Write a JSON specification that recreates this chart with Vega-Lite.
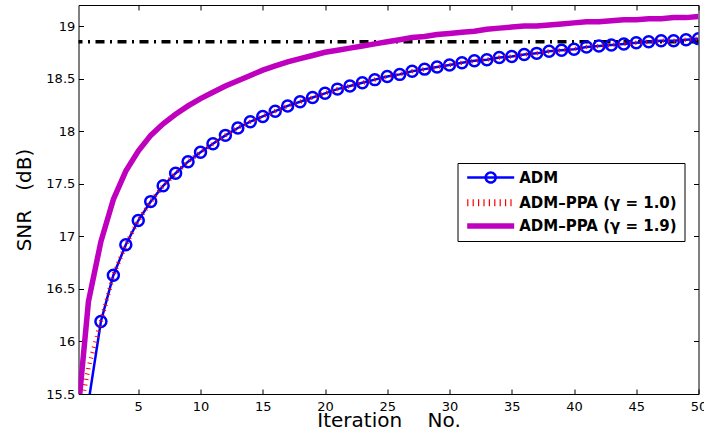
{
  "$schema": "https://vega.github.io/schema/vega-lite/v6.json",
  "width": 620,
  "height": 389,
  "autosize": {"type": "none"},
  "padding": {"left": 78.5, "top": 5, "right": 5.5, "bottom": 50},
  "background": "white",
  "config": {
    "view": {"stroke": "black", "strokeWidth": 1},
    "font": "DejaVu Sans",
    "axis": {
      "grid": false,
      "domain": false,
      "tickColor": "black",
      "tickWidth": 1,
      "tickSize": -5,
      "labelColor": "black",
      "labelFont": "DejaVu Sans",
      "labelFontSize": 13,
      "labelOverlap": false,
      "labelFlush": false,
      "titleColor": "black",
      "titleFont": "DejaVu Sans",
      "titleFontSize": 20,
      "titleFontWeight": "normal"
    }
  },
  "datasets": {
    "ref": [{"snr": 18.85}],
    "curves": [
      {"iter": 0, "series": "ADM", "snr": 15.12},
      {"iter": 1, "series": "ADM", "snr": 15.42},
      {"iter": 2, "series": "ADM", "snr": 16.19},
      {"iter": 3, "series": "ADM", "snr": 16.63},
      {"iter": 4, "series": "ADM", "snr": 16.92},
      {"iter": 5, "series": "ADM", "snr": 17.15},
      {"iter": 6, "series": "ADM", "snr": 17.33},
      {"iter": 7, "series": "ADM", "snr": 17.48},
      {"iter": 8, "series": "ADM", "snr": 17.6},
      {"iter": 9, "series": "ADM", "snr": 17.71},
      {"iter": 10, "series": "ADM", "snr": 17.8},
      {"iter": 11, "series": "ADM", "snr": 17.88},
      {"iter": 12, "series": "ADM", "snr": 17.96},
      {"iter": 13, "series": "ADM", "snr": 18.03},
      {"iter": 14, "series": "ADM", "snr": 18.09},
      {"iter": 15, "series": "ADM", "snr": 18.14},
      {"iter": 16, "series": "ADM", "snr": 18.19},
      {"iter": 17, "series": "ADM", "snr": 18.24},
      {"iter": 18, "series": "ADM", "snr": 18.28},
      {"iter": 19, "series": "ADM", "snr": 18.32},
      {"iter": 20, "series": "ADM", "snr": 18.36},
      {"iter": 21, "series": "ADM", "snr": 18.4},
      {"iter": 22, "series": "ADM", "snr": 18.43},
      {"iter": 23, "series": "ADM", "snr": 18.46},
      {"iter": 24, "series": "ADM", "snr": 18.49},
      {"iter": 25, "series": "ADM", "snr": 18.52},
      {"iter": 26, "series": "ADM", "snr": 18.54},
      {"iter": 27, "series": "ADM", "snr": 18.57},
      {"iter": 28, "series": "ADM", "snr": 18.59},
      {"iter": 29, "series": "ADM", "snr": 18.61},
      {"iter": 30, "series": "ADM", "snr": 18.63},
      {"iter": 31, "series": "ADM", "snr": 18.65},
      {"iter": 32, "series": "ADM", "snr": 18.67},
      {"iter": 33, "series": "ADM", "snr": 18.68},
      {"iter": 34, "series": "ADM", "snr": 18.7},
      {"iter": 35, "series": "ADM", "snr": 18.71},
      {"iter": 36, "series": "ADM", "snr": 18.73},
      {"iter": 37, "series": "ADM", "snr": 18.74},
      {"iter": 38, "series": "ADM", "snr": 18.76},
      {"iter": 39, "series": "ADM", "snr": 18.77},
      {"iter": 40, "series": "ADM", "snr": 18.78},
      {"iter": 41, "series": "ADM", "snr": 18.8},
      {"iter": 42, "series": "ADM", "snr": 18.81},
      {"iter": 43, "series": "ADM", "snr": 18.82},
      {"iter": 44, "series": "ADM", "snr": 18.83},
      {"iter": 45, "series": "ADM", "snr": 18.84},
      {"iter": 46, "series": "ADM", "snr": 18.85},
      {"iter": 47, "series": "ADM", "snr": 18.86},
      {"iter": 48, "series": "ADM", "snr": 18.86},
      {"iter": 49, "series": "ADM", "snr": 18.87},
      {"iter": 50, "series": "ADM", "snr": 18.88},
      {"iter": 0, "series": "ADM–PPA (γ = 1.0)", "snr": 15.12},
      {"iter": 1, "series": "ADM–PPA (γ = 1.0)", "snr": 15.75},
      {"iter": 2, "series": "ADM–PPA (γ = 1.0)", "snr": 16.19},
      {"iter": 3, "series": "ADM–PPA (γ = 1.0)", "snr": 16.63},
      {"iter": 4, "series": "ADM–PPA (γ = 1.0)", "snr": 16.92},
      {"iter": 5, "series": "ADM–PPA (γ = 1.0)", "snr": 17.15},
      {"iter": 6, "series": "ADM–PPA (γ = 1.0)", "snr": 17.33},
      {"iter": 7, "series": "ADM–PPA (γ = 1.0)", "snr": 17.48},
      {"iter": 8, "series": "ADM–PPA (γ = 1.0)", "snr": 17.6},
      {"iter": 9, "series": "ADM–PPA (γ = 1.0)", "snr": 17.71},
      {"iter": 10, "series": "ADM–PPA (γ = 1.0)", "snr": 17.8},
      {"iter": 11, "series": "ADM–PPA (γ = 1.0)", "snr": 17.88},
      {"iter": 12, "series": "ADM–PPA (γ = 1.0)", "snr": 17.96},
      {"iter": 13, "series": "ADM–PPA (γ = 1.0)", "snr": 18.03},
      {"iter": 14, "series": "ADM–PPA (γ = 1.0)", "snr": 18.09},
      {"iter": 15, "series": "ADM–PPA (γ = 1.0)", "snr": 18.14},
      {"iter": 16, "series": "ADM–PPA (γ = 1.0)", "snr": 18.19},
      {"iter": 17, "series": "ADM–PPA (γ = 1.0)", "snr": 18.24},
      {"iter": 18, "series": "ADM–PPA (γ = 1.0)", "snr": 18.28},
      {"iter": 19, "series": "ADM–PPA (γ = 1.0)", "snr": 18.32},
      {"iter": 20, "series": "ADM–PPA (γ = 1.0)", "snr": 18.36},
      {"iter": 21, "series": "ADM–PPA (γ = 1.0)", "snr": 18.4},
      {"iter": 22, "series": "ADM–PPA (γ = 1.0)", "snr": 18.43},
      {"iter": 23, "series": "ADM–PPA (γ = 1.0)", "snr": 18.46},
      {"iter": 24, "series": "ADM–PPA (γ = 1.0)", "snr": 18.49},
      {"iter": 25, "series": "ADM–PPA (γ = 1.0)", "snr": 18.52},
      {"iter": 26, "series": "ADM–PPA (γ = 1.0)", "snr": 18.54},
      {"iter": 27, "series": "ADM–PPA (γ = 1.0)", "snr": 18.57},
      {"iter": 28, "series": "ADM–PPA (γ = 1.0)", "snr": 18.59},
      {"iter": 29, "series": "ADM–PPA (γ = 1.0)", "snr": 18.61},
      {"iter": 30, "series": "ADM–PPA (γ = 1.0)", "snr": 18.63},
      {"iter": 31, "series": "ADM–PPA (γ = 1.0)", "snr": 18.65},
      {"iter": 32, "series": "ADM–PPA (γ = 1.0)", "snr": 18.67},
      {"iter": 33, "series": "ADM–PPA (γ = 1.0)", "snr": 18.68},
      {"iter": 34, "series": "ADM–PPA (γ = 1.0)", "snr": 18.7},
      {"iter": 35, "series": "ADM–PPA (γ = 1.0)", "snr": 18.71},
      {"iter": 36, "series": "ADM–PPA (γ = 1.0)", "snr": 18.73},
      {"iter": 37, "series": "ADM–PPA (γ = 1.0)", "snr": 18.74},
      {"iter": 38, "series": "ADM–PPA (γ = 1.0)", "snr": 18.76},
      {"iter": 39, "series": "ADM–PPA (γ = 1.0)", "snr": 18.77},
      {"iter": 40, "series": "ADM–PPA (γ = 1.0)", "snr": 18.78},
      {"iter": 41, "series": "ADM–PPA (γ = 1.0)", "snr": 18.8},
      {"iter": 42, "series": "ADM–PPA (γ = 1.0)", "snr": 18.81},
      {"iter": 43, "series": "ADM–PPA (γ = 1.0)", "snr": 18.82},
      {"iter": 44, "series": "ADM–PPA (γ = 1.0)", "snr": 18.83},
      {"iter": 45, "series": "ADM–PPA (γ = 1.0)", "snr": 18.84},
      {"iter": 46, "series": "ADM–PPA (γ = 1.0)", "snr": 18.85},
      {"iter": 47, "series": "ADM–PPA (γ = 1.0)", "snr": 18.86},
      {"iter": 48, "series": "ADM–PPA (γ = 1.0)", "snr": 18.86},
      {"iter": 49, "series": "ADM–PPA (γ = 1.0)", "snr": 18.87},
      {"iter": 50, "series": "ADM–PPA (γ = 1.0)", "snr": 18.88},
      {"iter": 0, "series": "ADM–PPA (γ = 1.9)", "snr": 15.12},
      {"iter": 1, "series": "ADM–PPA (γ = 1.9)", "snr": 16.38},
      {"iter": 2, "series": "ADM–PPA (γ = 1.9)", "snr": 16.95},
      {"iter": 3, "series": "ADM–PPA (γ = 1.9)", "snr": 17.35},
      {"iter": 4, "series": "ADM–PPA (γ = 1.9)", "snr": 17.62},
      {"iter": 5, "series": "ADM–PPA (γ = 1.9)", "snr": 17.81},
      {"iter": 6, "series": "ADM–PPA (γ = 1.9)", "snr": 17.96},
      {"iter": 7, "series": "ADM–PPA (γ = 1.9)", "snr": 18.07},
      {"iter": 8, "series": "ADM–PPA (γ = 1.9)", "snr": 18.16},
      {"iter": 9, "series": "ADM–PPA (γ = 1.9)", "snr": 18.24},
      {"iter": 10, "series": "ADM–PPA (γ = 1.9)", "snr": 18.31},
      {"iter": 11, "series": "ADM–PPA (γ = 1.9)", "snr": 18.37},
      {"iter": 12, "series": "ADM–PPA (γ = 1.9)", "snr": 18.43},
      {"iter": 13, "series": "ADM–PPA (γ = 1.9)", "snr": 18.48},
      {"iter": 14, "series": "ADM–PPA (γ = 1.9)", "snr": 18.53},
      {"iter": 15, "series": "ADM–PPA (γ = 1.9)", "snr": 18.58},
      {"iter": 16, "series": "ADM–PPA (γ = 1.9)", "snr": 18.62},
      {"iter": 17, "series": "ADM–PPA (γ = 1.9)", "snr": 18.66},
      {"iter": 18, "series": "ADM–PPA (γ = 1.9)", "snr": 18.69},
      {"iter": 19, "series": "ADM–PPA (γ = 1.9)", "snr": 18.72},
      {"iter": 20, "series": "ADM–PPA (γ = 1.9)", "snr": 18.75},
      {"iter": 21, "series": "ADM–PPA (γ = 1.9)", "snr": 18.77},
      {"iter": 22, "series": "ADM–PPA (γ = 1.9)", "snr": 18.79},
      {"iter": 23, "series": "ADM–PPA (γ = 1.9)", "snr": 18.81},
      {"iter": 24, "series": "ADM–PPA (γ = 1.9)", "snr": 18.83},
      {"iter": 25, "series": "ADM–PPA (γ = 1.9)", "snr": 18.85},
      {"iter": 26, "series": "ADM–PPA (γ = 1.9)", "snr": 18.87},
      {"iter": 27, "series": "ADM–PPA (γ = 1.9)", "snr": 18.89},
      {"iter": 28, "series": "ADM–PPA (γ = 1.9)", "snr": 18.9},
      {"iter": 29, "series": "ADM–PPA (γ = 1.9)", "snr": 18.92},
      {"iter": 30, "series": "ADM–PPA (γ = 1.9)", "snr": 18.93},
      {"iter": 31, "series": "ADM–PPA (γ = 1.9)", "snr": 18.94},
      {"iter": 32, "series": "ADM–PPA (γ = 1.9)", "snr": 18.95},
      {"iter": 33, "series": "ADM–PPA (γ = 1.9)", "snr": 18.97},
      {"iter": 34, "series": "ADM–PPA (γ = 1.9)", "snr": 18.98},
      {"iter": 35, "series": "ADM–PPA (γ = 1.9)", "snr": 18.99},
      {"iter": 36, "series": "ADM–PPA (γ = 1.9)", "snr": 19.0},
      {"iter": 37, "series": "ADM–PPA (γ = 1.9)", "snr": 19.0},
      {"iter": 38, "series": "ADM–PPA (γ = 1.9)", "snr": 19.01},
      {"iter": 39, "series": "ADM–PPA (γ = 1.9)", "snr": 19.02},
      {"iter": 40, "series": "ADM–PPA (γ = 1.9)", "snr": 19.03},
      {"iter": 41, "series": "ADM–PPA (γ = 1.9)", "snr": 19.04},
      {"iter": 42, "series": "ADM–PPA (γ = 1.9)", "snr": 19.04},
      {"iter": 43, "series": "ADM–PPA (γ = 1.9)", "snr": 19.05},
      {"iter": 44, "series": "ADM–PPA (γ = 1.9)", "snr": 19.06},
      {"iter": 45, "series": "ADM–PPA (γ = 1.9)", "snr": 19.06},
      {"iter": 46, "series": "ADM–PPA (γ = 1.9)", "snr": 19.07},
      {"iter": 47, "series": "ADM–PPA (γ = 1.9)", "snr": 19.07},
      {"iter": 48, "series": "ADM–PPA (γ = 1.9)", "snr": 19.08},
      {"iter": 49, "series": "ADM–PPA (γ = 1.9)", "snr": 19.08},
      {"iter": 50, "series": "ADM–PPA (γ = 1.9)", "snr": 19.09}
    ]
  },
  "layer": [
    {
      "data": {"name": "ref"},
      "mark": {"type": "rule", "color": "black", "strokeWidth": 3.5, "strokeDash": [9, 5.5, 2, 5.5], "strokeCap": "butt"},
      "encoding": {
        "y": {"field": "snr", "type": "quantitative", "scale": {"domain": [15.5, 19.2], "nice": false, "zero": false}, "axis": null}
      }
    },
    {
      "data": {"name": "curves"},
      "transform": [{"filter": "datum.series == 'ADM'"}],
      "mark": {"type": "line", "color": "#0000ff", "strokeWidth": 2.5, "clip": true},
      "encoding": {
        "x": {"field": "iter", "type": "quantitative", "scale": {"domain": [0.2, 50], "nice": false, "zero": false},
          "axis": {"orient": "top", "values": [5, 10, 15, 20, 25, 30, 35, 40, 45, 50], "labels": false, "title": null}},
        "y": {"field": "snr", "type": "quantitative", "scale": {"domain": [15.5, 19.2], "nice": false, "zero": false},
          "axis": {"orient": "right", "values": [15.5, 16, 16.5, 17, 17.5, 18, 18.5, 19], "labels": false, "title": null}}
      }
    },
    {
      "data": {"name": "curves"},
      "transform": [{"filter": "datum.series == 'ADM' && datum.iter >= 1"}],
      "mark": {"type": "point", "shape": "circle", "filled": false, "color": "#0000ff", "size": 120, "strokeWidth": 2.5, "opacity": 1, "clip": true},
      "encoding": {
        "x": {"field": "iter", "type": "quantitative", "axis": null},
        "y": {"field": "snr", "type": "quantitative", "axis": null}
      }
    },
    {
      "data": {"name": "curves"},
      "transform": [{"filter": "datum.series == 'ADM–PPA (γ = 1.0)'"}],
      "mark": {"type": "line", "color": "#ff0000", "strokeWidth": 4.5, "strokeDash": [1, 4.5], "strokeCap": "butt", "clip": true},
      "encoding": {
        "x": {"field": "iter", "type": "quantitative", "axis": null},
        "y": {"field": "snr", "type": "quantitative", "axis": null}
      }
    },
    {
      "data": {"name": "curves"},
      "transform": [{"filter": "datum.series == 'ADM–PPA (γ = 1.9)'"}],
      "mark": {"type": "line", "color": "#bf00bf", "strokeWidth": 5.5, "clip": true},
      "encoding": {
        "x": {"field": "iter", "type": "quantitative",
          "axis": {"orient": "bottom", "values": [5, 10, 15, 20, 25, 30, 35, 40, 45, 50], "labelPadding": 11.5,
            "title": "Iteration\u00a0\u00a0\u00a0\u00a0No.", "titleY": 32.5, "titleBaseline": "alphabetic"}},
        "y": {"field": "snr", "type": "quantitative",
          "axis": {"orient": "left", "values": [15.5, 16, 16.5, 17, 17.5, 18, 18.5, 19], "format": "~g", "labelPadding": 8.7,
            "title": "SNR\u00a0\u00a0\u00a0(dB)", "titleX": -48, "titleY": 194.5, "titleBaseline": "alphabetic"}}
      }
    },
    {
      "data": {"name": "curves"},
      "transform": [{"filter": "datum.iter < 0"}],
      "mark": {"type": "point", "filled": false, "strokeWidth": 2.5, "opacity": 1},
      "encoding": {
        "color": {"field": "series", "type": "nominal",
          "scale": {"domain": ["ADM", "ADM–PPA (γ = 1.0)", "ADM–PPA (γ = 1.9)"], "range": ["#0000ff", "#ff0000", "#bf00bf"]},
          "legend": {"orient": "none", "legendX": 379, "legendY": 158, "title": null, "padding": 7, "rowPadding": 7.2,
            "symbolSize": 100, "symbolStrokeWidth": 2.5, "symbolOffset": 18.7, "labelOffset": 21, "symbolFillColor": "transparent", "symbolOpacity": 1,
            "labelFont": "DejaVu Sans", "labelFontSize": 15, "labelFontWeight": "bold", "labelColor": "black", "labelLimit": 300,
            "strokeColor": "black", "fillColor": "white", "cornerRadius": 0}},
        "shape": {"field": "series", "type": "nominal",
          "scale": {"domain": ["ADM", "ADM–PPA (γ = 1.0)", "ADM–PPA (γ = 1.9)"],
            "range": [
              "M-4.7,0L4.7,0M1,0C1,0.5523 0.5523,1 0,1C-0.5523,1 -1,0.5523 -1,0C-1,-0.5523 -0.5523,-1 0,-1C0.5523,-1 1,-0.5523 1,0Z",
              "M-4.7,-0.45L4.7,-0.45M-4.7,0L4.7,0M-4.7,0.45L4.7,0.45",
              "M-4.7,-0.3L4.7,-0.3M-4.7,0L4.7,0M-4.7,0.3L4.7,0.3"
            ]},
          "legend": {"orient": "none", "legendX": 379, "legendY": 158, "title": null, "padding": 7, "rowPadding": 7.2,
            "symbolSize": 100, "symbolStrokeWidth": 2.5, "symbolOffset": 18.7, "labelOffset": 21, "symbolFillColor": "transparent", "symbolOpacity": 1,
            "labelFont": "DejaVu Sans", "labelFontSize": 15, "labelFontWeight": "bold", "labelColor": "black", "labelLimit": 300,
            "strokeColor": "black", "fillColor": "white", "cornerRadius": 0}},
        "strokeDash": {"field": "series", "type": "nominal",
          "scale": {"domain": ["ADM", "ADM–PPA (γ = 1.0)", "ADM–PPA (γ = 1.9)"], "range": [[1, 0], [1.2, 4.2], [1, 0]]},
          "legend": {"orient": "none", "legendX": 379, "legendY": 158, "title": null, "padding": 7, "rowPadding": 7.2,
            "symbolSize": 100, "symbolStrokeWidth": 2.5, "symbolOffset": 18.7, "labelOffset": 21, "symbolFillColor": "transparent", "symbolOpacity": 1,
            "labelFont": "DejaVu Sans", "labelFontSize": 15, "labelFontWeight": "bold", "labelColor": "black", "labelLimit": 300,
            "strokeColor": "black", "fillColor": "white", "cornerRadius": 0}}
      }
    }
  ],
  "resolve": {"axis": {"x": "independent", "y": "independent"}}
}
